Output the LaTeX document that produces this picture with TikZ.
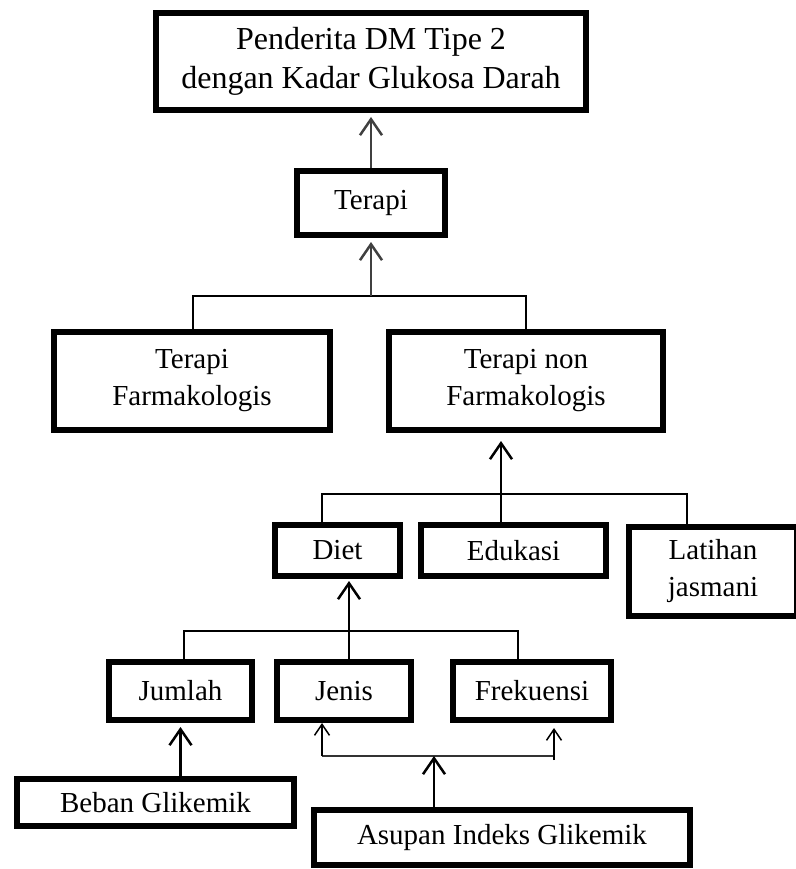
\documentclass[tikz,border=0pt]{standalone}
\usepackage{fontspec}
\setmainfont{Liberation Serif}
\usetikzlibrary{positioning,arrows.meta}

\tikzset{
 kotak/.style={draw,line width=6pt,align=center,inner sep=0pt,font=\fontsize{29}{37}\selectfont},
 panah/.style={-{Straight Barb[length=16pt,width=22pt]},line width=2.5pt,shorten >=4pt},
 panahkecil/.style={-{Straight Barb[length=11pt,width=15pt]},line width=1.5pt},
 garis/.style={line width=2pt}
}

\begin{document}
\begin{tikzpicture}[x=1pt,y=-1pt]
\useasboundingbox (0,0) rectangle (795,869);
% kotak-kotak
\node[kotak,minimum width=430,minimum height=97,font=\fontsize{32}{39}\selectfont] (penderita) at (371,61.5) {Penderita DM Tipe 2\\dengan Kadar Glukosa Darah};
\node[kotak,minimum width=148,minimum height=64] (terapi) at (371,203) {Terapi};
\node[kotak,minimum width=276,minimum height=98] (farma) at (192,381) {Terapi\\Farmakologis};
\node[kotak,minimum width=274,minimum height=98] (nonfarma) at (526,381) {Terapi non\\Farmakologis};
\node[kotak,minimum width=125,minimum height=51] (diet) at (337.5,550.5) {\raisebox{-5pt}{Diet}};
\node[kotak,minimum width=185,minimum height=51] (edukasi) at (513.5,550.5) {Edukasi};
\node[kotak,minimum width=168,minimum height=89] (latihan) at (713,571.5) {Latihan\\jasmani};
\node[kotak,minimum width=143,minimum height=58] (jumlah) at (180.5,691) {Jumlah};
\node[kotak,minimum width=134,minimum height=58] (jenis) at (344,691) {Jenis};
\node[kotak,minimum width=158,minimum height=58] (frek) at (532,691) {Frekuensi};
\node[kotak,minimum width=277,minimum height=47] (beban) at (155.5,802.5) {Beban Glikemik};
\node[kotak,minimum width=376,minimum height=55] (asupan) at (502,837.5) {Asupan Indeks Glikemik};

% titik cabang
\coordinate (k1) at (193,296);
\coordinate (k2) at (526,296);
\coordinate (k3) at (322,494);
\coordinate (k4) at (687,494);
\coordinate (k5) at (501,494);
\coordinate (k6) at (184,631);
\coordinate (k7) at (518,631);
\coordinate (k8) at (349,631);
\coordinate (k10) at (322,756);
\coordinate (k11) at (554,756);
\coordinate (k12) at (434,756);

\draw[panah,black!75] (terapi.north) -- (penderita.south);
\draw[garis] (farma.north -| k1) -- (k1) -- (k2) -- (nonfarma.north -| k2);
\draw[panah,black!75] (terapi.south |- k1) -- (terapi.south);

\draw[garis] (diet.north -| k3) -- (k3) -- (k4) -- (latihan.north -| k4);
\draw[garis] (k5) -- (edukasi.north -| k5);
\draw[panah,shorten >=8pt] (k5) -- (nonfarma.south -| k5);

\draw[garis] (jumlah.north -| k6) -- (k6) -- (k7) -- (frek.north -| k7);
\draw[garis] (k8) -- (jenis.north -| k8);
\draw[panah,shorten >=2pt] (k8) -- (diet.south -| k8);

\draw[panah] (jumlah.south |- beban.north) -- (jumlah.south);

\draw[garis,line width=1.5pt,black!80] (k10) -- (k11);
\draw[panahkecil] (k10) -- (jenis.south -| k10);
\draw[panahkecil,shorten >=5pt] ([yshift=-4pt]k11) -- (frek.south -| k11);
\draw[panah,shorten >=0pt] (asupan.north -| k12) -- (k12);
%\draw[gray] (0,0) grid[step=50] (795,869);
\end{tikzpicture}
\end{document}
